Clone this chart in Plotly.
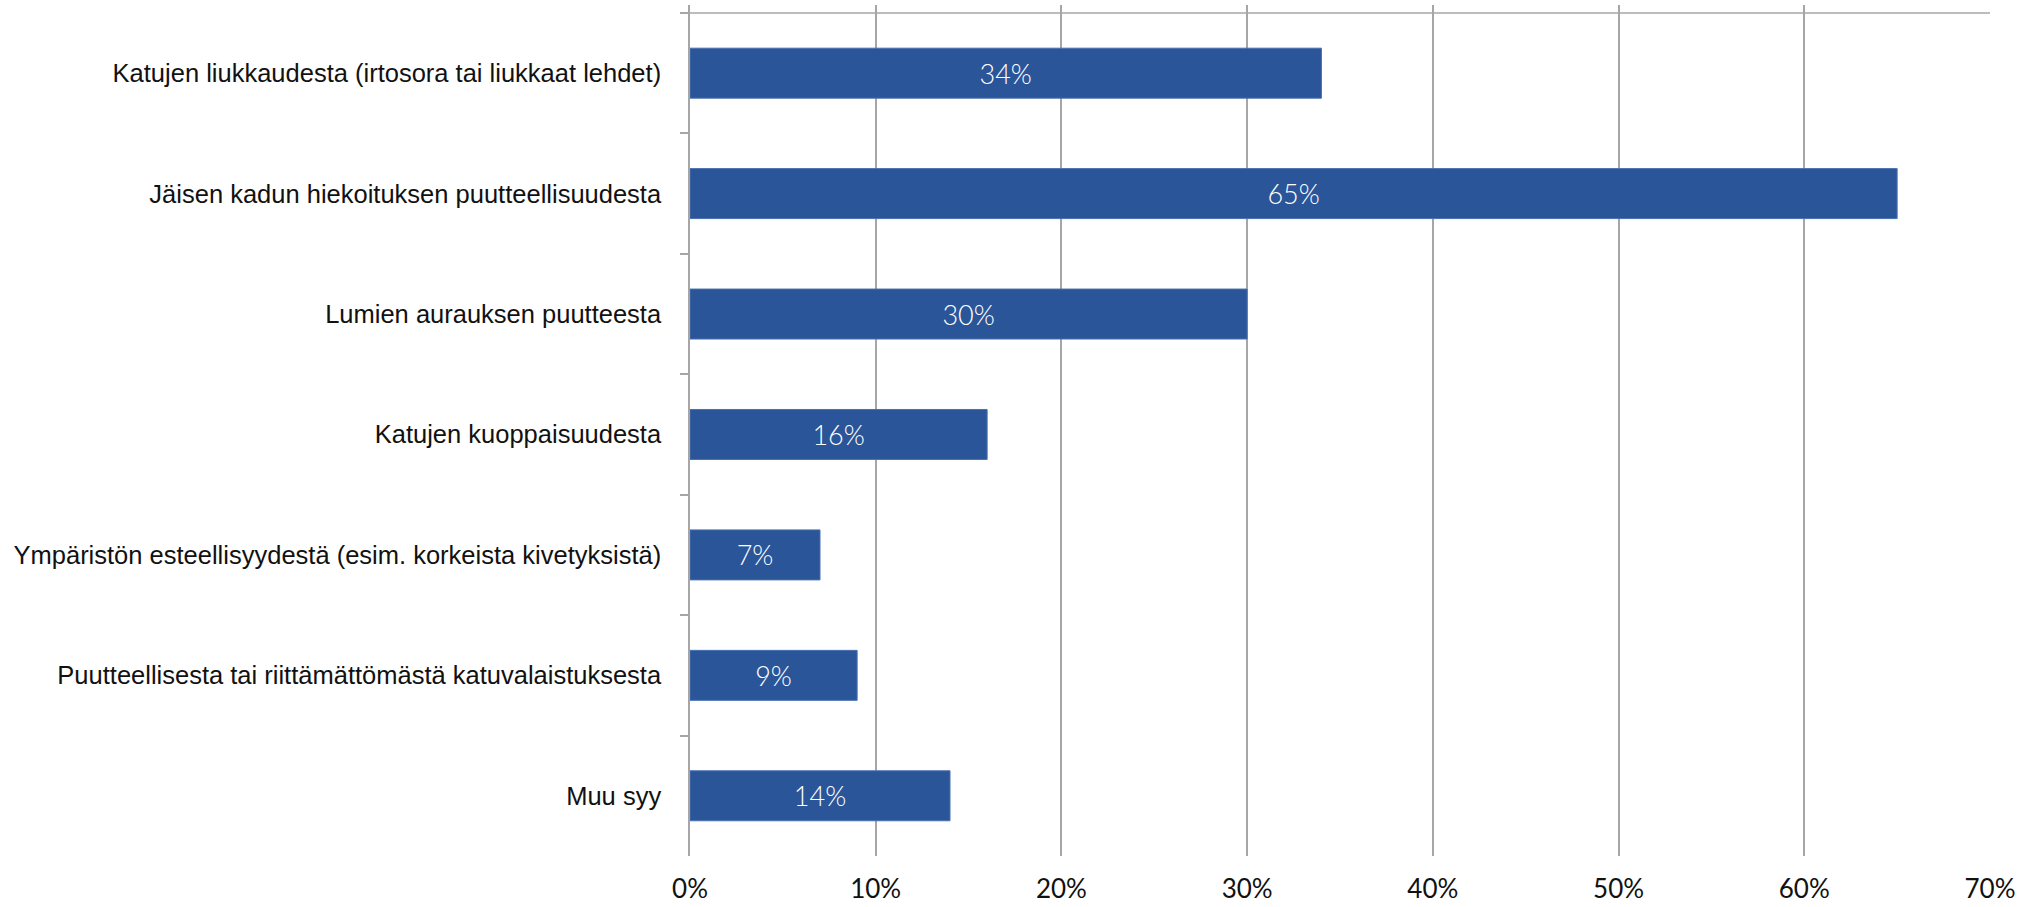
import plotly.graph_objects as go

categories = [
    "Katujen liukkaudesta (irtosora tai liukkaat lehdet)",
    "Jäisen kadun hiekoituksen puutteellisuudesta",
    "Lumien aurauksen puutteesta",
    "Katujen kuoppaisuudesta",
    "Ympäristön esteellisyydestä (esim. korkeista kivetyksistä)",
    "Puutteellisesta tai riittämättömästä katuvalaistuksesta",
    "Muu syy",
]
values = [34, 65, 30, 16, 7, 9, 14]
x_ticks = [0, 10, 20, 30, 40, 50, 60, 70]
x_tick_labels = [f"{v}%" for v in x_ticks]

BAR = "#2A5599"
GRID = "#A6A6A6"

fig = go.Figure()
fig.add_trace(go.Bar(
    y=categories,
    x=values,
    orientation="h",
    marker=dict(color=BAR, line=dict(color="#4A70B0", width=1)),
    text=[f"{v}%" for v in values],
    textposition="inside",
    insidetextanchor="middle",
    textangle=0,
    textfont=dict(family="Lato", size=27, color="white", weight=300),
    cliponaxis=False,
    showlegend=False,
))

n = len(categories)
fig.update_layout(
    width=2035,
    height=907,
    margin=dict(l=690, r=45, t=5, b=51, autoexpand=False),
    paper_bgcolor="white",
    plot_bgcolor="white",
    bargap=0.585,
    xaxis=dict(
        range=[0, 70],
        tickvals=x_ticks,
        ticktext=x_tick_labels,
        showgrid=True,
        gridcolor=GRID,
        gridwidth=1.5,
        zeroline=False,
        showline=False,
        ticks="",
        automargin=False,
        tickfont=dict(family="Lato", size=26, color="#111111"),
        ticklabelstandoff=15,
    ),
    yaxis=dict(
        type="category",
        categoryorder="array",
        categoryarray=categories,
        range=[n - 0.5, -0.5 - 0.066],
        showgrid=False,
        zeroline=False,
        showline=True,
        linecolor=GRID,
        linewidth=1.5,
        ticks="outside",
        tickson="boundaries",
        ticklen=8,
        tickcolor=GRID,
        tickwidth=1.5,
        automargin=False,
        tickfont=dict(family="Liberation Sans", size=25.5, color="#111111"),
        ticklabelstandoff=22,
    ),
)

# top border line of the category area (as in the original chart)
fig.add_shape(type="line", xref="x", yref="y", x0=0, x1=70, y0=-0.5, y1=-0.5,
              line=dict(color=GRID, width=1.5))

fig.write_html(
    "out.html",
    config={"displayModeBar": False},
    post_script="document.body.style.margin='0';document.body.style.overflow='hidden';",
)
